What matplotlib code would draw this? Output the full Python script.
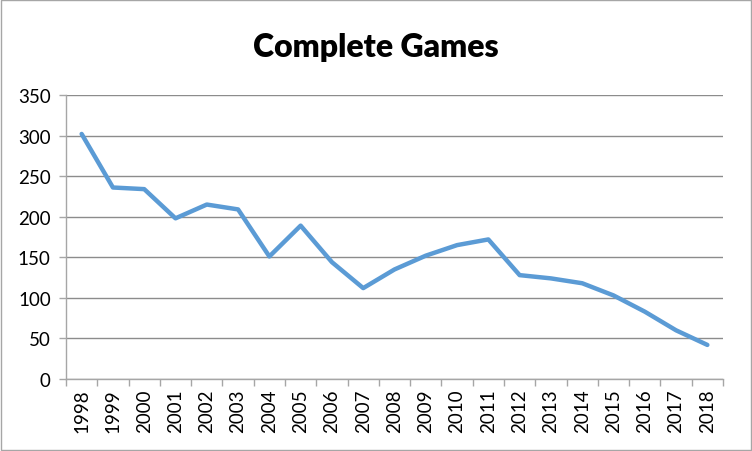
import matplotlib.pyplot as plt
from matplotlib.patches import Rectangle
from matplotlib.ticker import FixedLocator

years = [str(y) for y in range(1998, 2019)]
complete_games = [302, 236, 234, 198, 215, 209, 151, 189, 144, 112, 135,
                  152, 165, 172, 128, 124, 118, 103, 83, 60, 42]

plt.rcParams["font.family"] = ["Lato", "DejaVu Sans"]

fig = plt.figure(figsize=(7.52, 4.52), dpi=100)
ax = fig.add_axes([66 / 752, 72 / 452, 657 / 752, 284 / 452])

x = list(range(len(years)))
ax.plot(x, complete_games, color="#5B9BD5", lw=3.2,
        solid_joinstyle="round", solid_capstyle="round")

ax.set_xlim(-0.5, len(years) - 0.5)
ax.set_ylim(0, 350)
ax.set_yticks(range(0, 351, 50))
ax.set_xticks(x)
ax.set_xticklabels(years, rotation=90)
ax.xaxis.set_minor_locator(FixedLocator([i - 0.5 for i in range(len(years) + 1)]))
ax.tick_params(axis="x", which="major", length=0, pad=7, labelsize=13.5)
ax.tick_params(axis="x", which="minor", length=5, color="#A6A6A6", width=1)
ax.tick_params(axis="y", length=5, color="#A6A6A6", width=1, labelsize=13.5, pad=6)

ax.grid(axis="y", color="#8C8C8C", lw=1)
ax.set_axisbelow(True)
for side in ("top", "right"):
    ax.spines[side].set_visible(False)
for side in ("left", "bottom"):
    ax.spines[side].set_color("#A6A6A6")
    ax.spines[side].set_linewidth(1)

fig.text(0.5, 1 - 47 / 452, "Complete Games", ha="center", va="center",
         fontsize=23, fontweight="heavy")

fig.patches.append(Rectangle((1 / 752, 1 / 452), 750 / 752, 450 / 452,
                             transform=fig.transFigure, fill=False,
                             edgecolor="#A6A6A6", lw=1))

fig.savefig("out.png", dpi=100)
